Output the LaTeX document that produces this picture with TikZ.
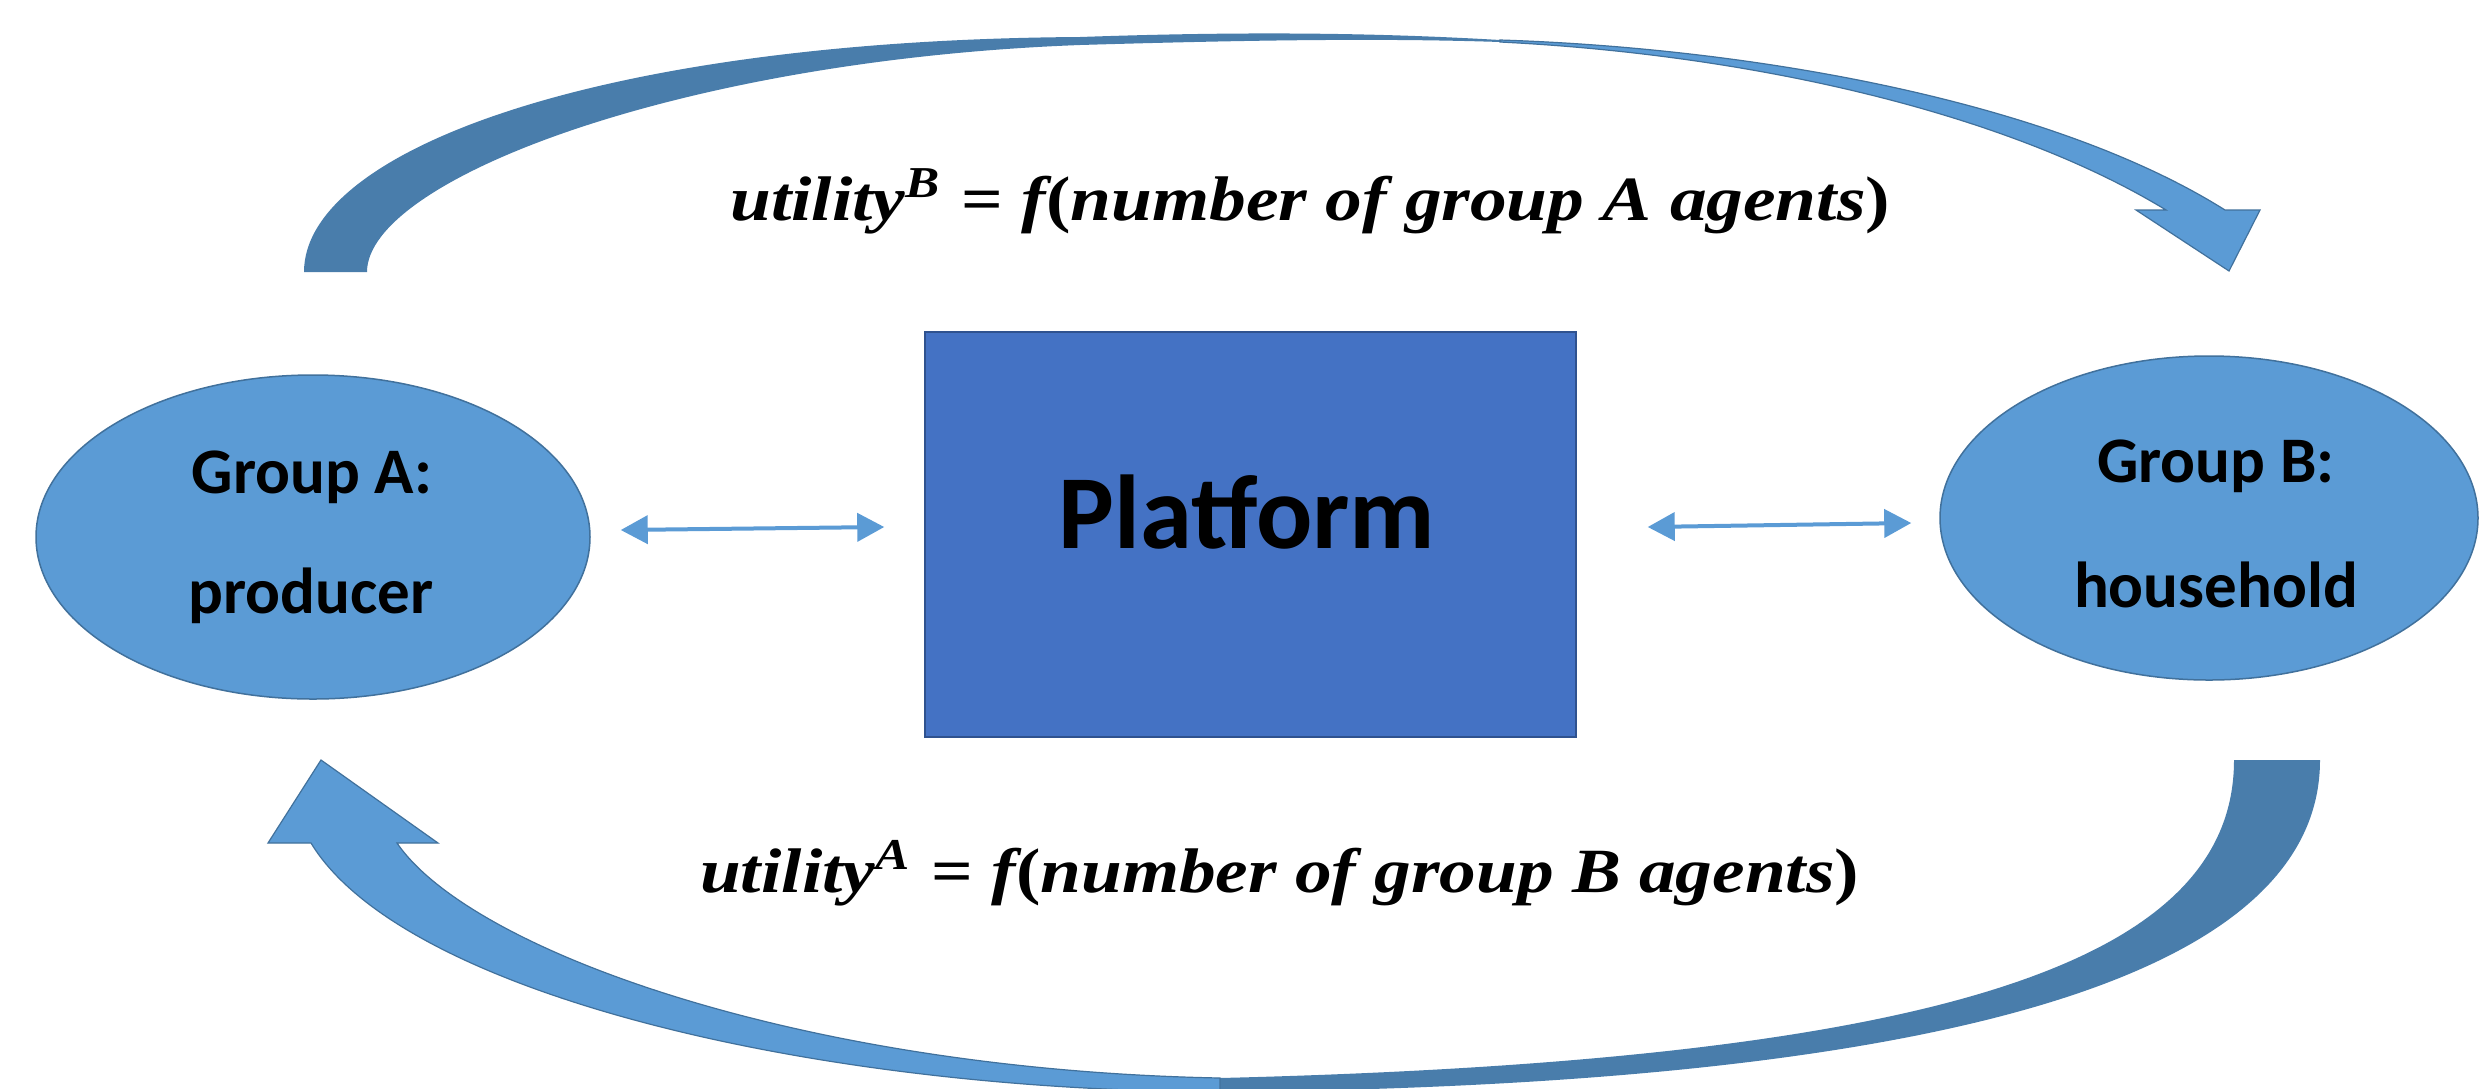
\documentclass[tikz,border=0pt]{standalone}
\usepackage{fontspec}
\setsansfont{Carlito}
\newfontfamily\formfont{Liberation Serif}
\usetikzlibrary{shapes.geometric,arrows.meta}
\definecolor{lightblue}{HTML}{5B9BD5}
\definecolor{edgeblue}{HTML}{41719C}
\definecolor{darkribbon}{HTML}{497DAB}
\definecolor{rectblue}{HTML}{4472C4}
\definecolor{rectedge}{HTML}{2F528F}
\newcommand{\utilform}[2]{\formfont\bfseries\itshape utility\textsuperscript{#1}\ {\upshape =}\ f{\upshape (}number of group #2 agents{\upshape )}}
\begin{document}
\begin{tikzpicture}[x=1pt,y=-1pt,
  groupshape/.style={ellipse, fill=lightblue, draw=edgeblue, line width=1.5pt, inner sep=0pt, minimum height=324pt},
  grouptext/.style={font=\sffamily\bfseries\fontsize{65}{78}\selectfont, anchor=base, inner sep=0pt},
  platbox/.style={rectangle, fill=rectblue, draw=rectedge, line width=1.5pt, inner sep=0pt, minimum width=651pt, minimum height=405pt},
  plattext/.style={font=\sffamily\bfseries\fontsize{105}{120}\selectfont, anchor=base, inner sep=0pt},
  formula/.style={anchor=base west, inner sep=0pt},
  dbl/.style={lightblue, line width=4pt, {Triangle[length=27pt,width=28pt]}-{Triangle[length=27pt,width=28pt]}},
  ribbonback/.style={fill=darkribbon},
  ribbonfront/.style={fill=lightblue, draw=edgeblue, line width=1.2pt, line join=miter}
]
\useasboundingbox (0,0) rectangle (2479,1088);
\fill[white] (0,0) rectangle (2479,1088);

% top curved arrow (Group A -> Group B)
\path[ribbonback] (304,272) .. controls (304,150) and (600,40) .. (1080,37)
  .. controls (1250,31) and (1380,33) .. (1500,40) -- (1500,42)
  .. controls (1380,38) and (1250,40) .. (1080,45)
  .. controls (680,60) and (367,180) .. (367,272) -- cycle;
\path[ribbonfront] (1500,40) .. controls (1750,48) and (2050,100) .. (2225,210)
  -- (2260,210) -- (2229,271) -- (2136,210) -- (2166,210)
  .. controls (2010,115) and (1760,55) .. (1500,42) -- cycle;

% bottom curved arrow (Group B -> Group A)
\path[ribbonback] (2320,760) .. controls (2320,960) and (2000,1085) .. (1220,1092)
  -- (1220,1078) .. controls (1950,1060) and (2234,960) .. (2234,760) -- cycle;
\path[ribbonfront] (1220,1092) .. controls (800,1090) and (400,990) .. (311,843)
  -- (268,843) -- (321,760) -- (438,843) -- (397,843)
  .. controls (470,950) and (800,1070) .. (1220,1078) -- cycle;

% nodes
\node[groupshape, minimum width=554pt] (A) at (313,537) {};
\node[groupshape, minimum width=538pt] (B) at (2209,518) {};
\node[platbox] (P) at (1250.5,534.5) {};

\node[grouptext] (A1) at (312,493) {Group A:};
\node[grouptext] (A2) at (311,613) {producer};
\node[grouptext] (B1) at (2216,482) {Group B:};
\node[grouptext] (B2) at (2216,607) {household};
\node[plattext] (Pt) at (1247,548) {Platform};

\node[formula] (fB) at (730,220) {\resizebox{1160pt}{\height}{\scalebox{6.3}{\utilform{B}{A}}}};
\node[formula] (fA) at (700,892) {\resizebox{1159pt}{\height}{\scalebox{6.3}{\utilform{A}{B}}}};

% connectors
\draw[dbl] ([xshift=30pt,yshift=7pt]A.east) -- ([xshift=-40pt,yshift=7.5pt]P.west);
\draw[dbl] ([xshift=71pt,yshift=7.5pt]P.east) -- ([xshift=-28pt,yshift=-5pt]B.west);
\end{tikzpicture}
\end{document}
